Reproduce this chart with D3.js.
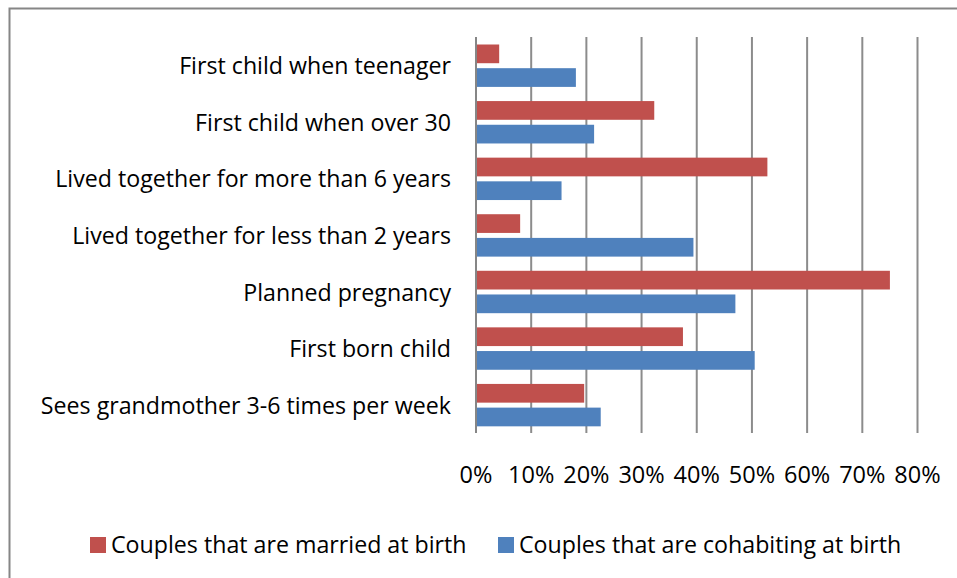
<!DOCTYPE html>
<head>
    <script src="https://d3js.org/d3.v7.min.js"></script>
</head>
<style>
body {
    margin: 0;
    background: #fff;
    font-family: "Open Sans", "Noto Sans", Arial, sans-serif;
}
</style>
<body>
<svg></svg>
<script>

    // Data
    var categories = [
        "First child when teenager",
        "First child when over 30",
        "Lived together for more than 6 years",
        "Lived together for less than 2 years",
        "Planned pregnancy",
        "First born child",
        "Sees grandmother 3-6 times per week"
    ];
    var seriesNames = ["Couples that are married at birth", "Couples that are cohabiting at birth"];
    var married    = [0.042, 0.323, 0.528, 0.080, 0.750, 0.375, 0.196];
    var cohabiting = [0.181, 0.214, 0.155, 0.394, 0.470, 0.505, 0.226];
    var tickValues = [0, 0.1, 0.2, 0.3, 0.4, 0.5, 0.6, 0.7, 0.8];
    var colors = ["#C0504D", "#4F81BD"];

    var width = 957;
    var height = 578;

    var svg = d3.select('svg')
        .attr('width', width)
        .attr('height', height);

    // chart border (runs off right / bottom of the frame)
    svg.append('rect')
        .attr('x', 9.5).attr('y', 8.5)
        .attr('width', 1000).attr('height', 1000)
        .style('fill', 'none')
        .style('stroke', '#868686')
        .style('stroke-width', 2);

    var x = d3.scaleLinear().domain([0, 0.8]).range([476, 917.5]);
    var y = d3.scaleBand().domain(categories).range([37, 433]);
    var ySub = d3.scaleBand().domain(seriesNames).range([7.5, 49.9]).paddingInner(0.21);

    // gridlines
    svg.append('g').selectAll('line')
        .data(tickValues.slice(1))
        .enter().append('line')
        .attr('x1', function (d) { return x(d); })
        .attr('x2', function (d) { return x(d); })
        .attr('y1', 37).attr('y2', 433)
        .style('stroke', '#8c8c8c')
        .style('stroke-width', 2);

    var rows = categories.map(function (c, i) {
        return { cat: c, values: [married[i], cohabiting[i]] };
    });

    var group = svg.append('g').selectAll('g')
        .data(rows)
        .enter().append('g')
        .attr('transform', function (d) { return 'translate(0,' + y(d.cat) + ')'; });

    group.selectAll('rect')
        .data(function (d) { return d.values.map(function (v, j) { return { v: v, s: seriesNames[j], j: j }; }); })
        .enter().append('rect')
        .attr('x', x(0))
        .attr('y', function (d) { return ySub(d.s); })
        .attr('width', function (d) { return x(d.v) - x(0); })
        .attr('height', ySub.bandwidth())
        .style('fill', function (d) { return colors[d.j]; });

    // vertical axis line
    svg.append('line')
        .attr('x1', x(0)).attr('x2', x(0))
        .attr('y1', 37).attr('y2', 433)
        .style('stroke', '#868686')
        .style('stroke-width', 2);

    // category labels
    svg.append('g').selectAll('text')
        .data(categories)
        .enter().append('text')
        .attr('x', 451)
        .attr('y', function (d) { return y(d) + y.bandwidth() / 2 + 9; })
        .attr('text-anchor', 'end')
        .style('font-size', '23.2px')
        .style('fill', '#000')
        .text(function (d) { return d; });

    // x tick labels
    svg.append('g').selectAll('text')
        .data(tickValues)
        .enter().append('text')
        .attr('x', function (d) { return x(d); })
        .attr('y', 483)
        .attr('text-anchor', 'middle')
        .style('font-size', '23.5px')
        .text(d3.format('.0%'));

    // legend
    var legendX = [90, 498];
    var legend = svg.append('g').selectAll('g')
        .data(seriesNames)
        .enter().append('g')
        .attr('transform', function (d, i) { return 'translate(' + legendX[i] + ',537)'; });

    legend.append('rect')
        .attr('width', 16).attr('height', 16)
        .style('fill', function (d, i) { return colors[i]; });

    legend.append('text')
        .attr('x', 21)
        .attr('y', 16)
        .style('font-size', '23.2px')
        .text(function (d) { return d; });

</script>
</body>
